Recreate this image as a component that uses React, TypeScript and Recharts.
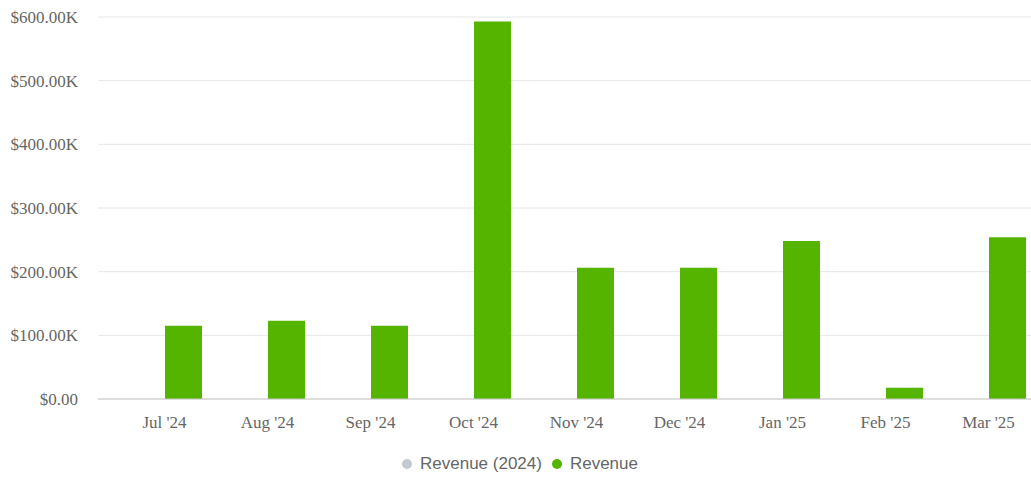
import React from "react";
import { BarChart, Bar, XAxis, YAxis, CartesianGrid, Legend } from "recharts";

const months = ["Jul '24", "Aug '24", "Sep '24", "Oct '24", "Nov '24", "Dec '24", "Jan '25", "Feb '25", "Mar '25"];
const revenue2024 = [0, 0, 0, 0, 0, 0, 0, 0, 0];
const revenue = [115000, 123000, 115000, 593000, 206000, 206000, 248000, 17500, 254000];
const yTicks = [0, 100000, 200000, 300000, 400000, 500000, 600000];

const series = [
  { key: "prev", name: "Revenue (2024)", color: "#c4c8cf" },
  { key: "cur", name: "Revenue", color: "#55b400" },
];

const data = months.map((m, i) => ({ month: m, prev: revenue2024[i], cur: revenue[i] }));

const fmt = (v: number) => (v === 0 ? "$0.00" : `$${(v / 1000).toFixed(2)}K`);

// legend in series order, grey dot first
const LegendContent = () => (
  <div style={{ display: "flex", justifyContent: "center", gap: 10, fontFamily: "Liberation Sans", fontSize: 17, color: "#666" }}>
    {series.map((s) => (
      <span key={s.key} style={{ display: "flex", alignItems: "center" }}>
        <span style={{ width: 10, height: 10, borderRadius: 5, background: s.color, marginRight: 8, display: "inline-block" }} />
        {s.name}
      </span>
    ))}
  </div>
);

export default function App() {
  const tick = { fontFamily: "Liberation Serif", fontSize: 17, fill: "#666" };
  return (
    <div style={{ position: "absolute", left: 0, top: 0, width: 1031, height: 478, overflow: "hidden", background: "#fff" }}>
      <BarChart
        width={1040}
        height={478}
        data={data}
        margin={{ top: 17, right: 0, left: 0, bottom: 29 }}
        barSize={37}
        barGap={1}
      >
        <CartesianGrid vertical={false} stroke="#e6e6e6" />
        <XAxis
          dataKey="month"
          tick={tick}
          tickLine={false}
          tickSize={0}
          tickMargin={17}
          axisLine={{ stroke: "#c8c8c8" }}
          padding={{ left: 15, right: 0 }}
          height={30}
        />
        <YAxis
          width={98}
          domain={[0, 600000]}
          ticks={yTicks}
          tickFormatter={fmt}
          tick={tick}
          tickLine={false}
          tickSize={0}
          tickMargin={20}
          axisLine={false}
        />
        <Legend verticalAlign="bottom" content={<LegendContent />} wrapperStyle={{ bottom: 4 }} />
        {series.map((s) => (
          <Bar key={s.key} dataKey={s.key} name={s.name} fill={s.color} isAnimationActive={false} />
        ))}
      </BarChart>
    </div>
  );
}
